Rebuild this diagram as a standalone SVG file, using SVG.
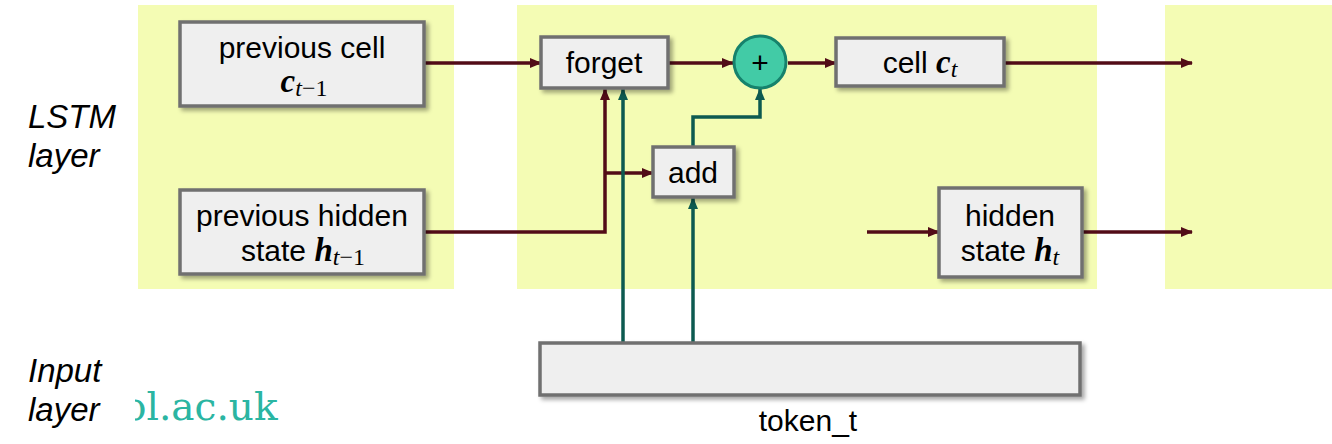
<svg xmlns="http://www.w3.org/2000/svg" width="1332" height="444" viewBox="0 0 1332 444">
<style>
.panel{fill:#f4fcb4}
.box{fill:#efefef;stroke:#707070;stroke-width:3.5;filter:url(#sh)}
.t{font-family:"Liberation Sans",Arial,sans-serif;font-size:30px;fill:#000;text-anchor:middle}
.m{font-family:"Liberation Serif","DejaVu Serif",serif;font-style:italic}
.mn{font-family:"Liberation Serif","DejaVu Serif",serif;font-style:normal}
.mb{font-weight:bold}
.lab{font-family:"Liberation Sans",Arial,sans-serif;font-size:33px;font-style:italic;fill:#000}
.r{fill:none;stroke:#520c17;stroke-width:3.5}
.g{fill:none;stroke:#0d5a50;stroke-width:3.5}
</style>
<defs>
<filter id="sh" x="-10%" y="-10%" width="130%" height="140%">
<feDropShadow dx="3" dy="3" stdDeviation="2" flood-color="#000" flood-opacity="0.35"/>
</filter>
<marker id="ar" markerWidth="12" markerHeight="10" refX="11" refY="5" orient="auto" markerUnits="userSpaceOnUse">
<path d="M0,0 L12,5 L0,10 Z" fill="#520c17"/>
</marker>
<marker id="ag" markerWidth="12" markerHeight="10" refX="11" refY="5" orient="auto" markerUnits="userSpaceOnUse">
<path d="M0,0 L12,5 L0,10 Z" fill="#0d5a50"/>
</marker>
<clipPath id="logoclip"><rect x="135" y="370" width="200" height="60"/></clipPath>
</defs>

<g id="panels">
<rect class="panel" x="138" y="5" width="316" height="284"/>
<rect class="panel" x="517" y="5" width="580" height="284"/>
<rect class="panel" x="1165" y="5" width="167" height="284"/>
</g>

<g id="labels">
<text class="lab" x="28" y="128">LSTM</text>
<text class="lab" x="28" y="167">layer</text>
<text class="lab" x="28" y="382">Input</text>
<text class="lab" x="28" y="421">layer</text>
<text x="123" y="420" clip-path="url(#logoclip)" font-family="'DejaVu Serif',serif" font-size="39" fill="#2bb5a2">ol.ac.uk</text>
</g>

<g id="connectors">
<line class="r" x1="425" y1="63" x2="541" y2="63" marker-end="url(#ar)"/>
<line class="r" x1="668" y1="63" x2="733" y2="63" marker-end="url(#ar)"/>
<line class="r" x1="788" y1="63" x2="836" y2="63" marker-end="url(#ar)"/>
<line class="r" x1="1004" y1="63" x2="1192" y2="63" marker-end="url(#ar)"/>
<polyline class="r" points="425,232 605,232 605,89" marker-end="url(#ar)"/>
<line class="r" x1="605" y1="173" x2="653" y2="173" marker-end="url(#ar)"/>
<line class="r" x1="867" y1="232" x2="939" y2="232" marker-end="url(#ar)"/>
<line class="r" x1="1082" y1="232" x2="1192" y2="232" marker-end="url(#ar)"/>
<line class="g" x1="623" y1="343" x2="623" y2="89" marker-end="url(#ag)"/>
<line class="g" x1="693" y1="343" x2="693" y2="198" marker-end="url(#ag)"/>
<polyline class="g" points="693,147 693,117 760,117 760,89" marker-end="url(#ag)"/>
</g>

<g id="prev-cell">
<rect class="box" x="180" y="22" width="244" height="84"/>
<text class="t" x="302" y="58">previous cell</text>
<text class="t" x="304" y="92"><tspan class="m mb" font-size="33">c</tspan><tspan class="m" font-size="24" dy="4">t</tspan><tspan class="mn" font-size="24">−1</tspan></text>
</g>

<g id="prev-hidden">
<rect class="box" x="180" y="190" width="244" height="84"/>
<text class="t" x="302" y="226">previous hidden</text>
<text class="t" x="303" y="261">state <tspan class="m mb" font-size="33">h</tspan><tspan class="m" font-size="24" dy="4">t</tspan><tspan class="mn" font-size="24">−1</tspan></text>
</g>

<g id="forget">
<rect class="box" x="541" y="37" width="127" height="51"/>
<text class="t" x="604" y="73">forget</text>
</g>

<g id="plus">
<circle cx="760" cy="62" r="26" fill="#42cba6" stroke="#16826c" stroke-width="3"/>
<text class="t" x="760" y="73" font-size="32">+</text>
</g>

<g id="add">
<rect class="box" x="653" y="147" width="81" height="50"/>
<text class="t" x="693" y="183">add</text>
</g>

<g id="cell">
<rect class="box" x="836" y="38" width="168" height="48"/>
<text class="t" x="920" y="73">cell <tspan class="m mb" font-size="33">c</tspan><tspan class="m" font-size="24" dy="4">t</tspan></text>
</g>

<g id="hidden">
<rect class="box" x="939" y="188" width="143" height="89"/>
<text class="t" x="1010" y="226">hidden</text>
<text class="t" x="1010" y="261">state <tspan class="m mb" font-size="33">h</tspan><tspan class="m" font-size="24" dy="4">t</tspan></text>
</g>

<g id="token">
<rect class="box" x="540" y="343" width="540" height="52"/>
<text class="t" x="808" y="431">token_t</text>
</g>
</svg>
